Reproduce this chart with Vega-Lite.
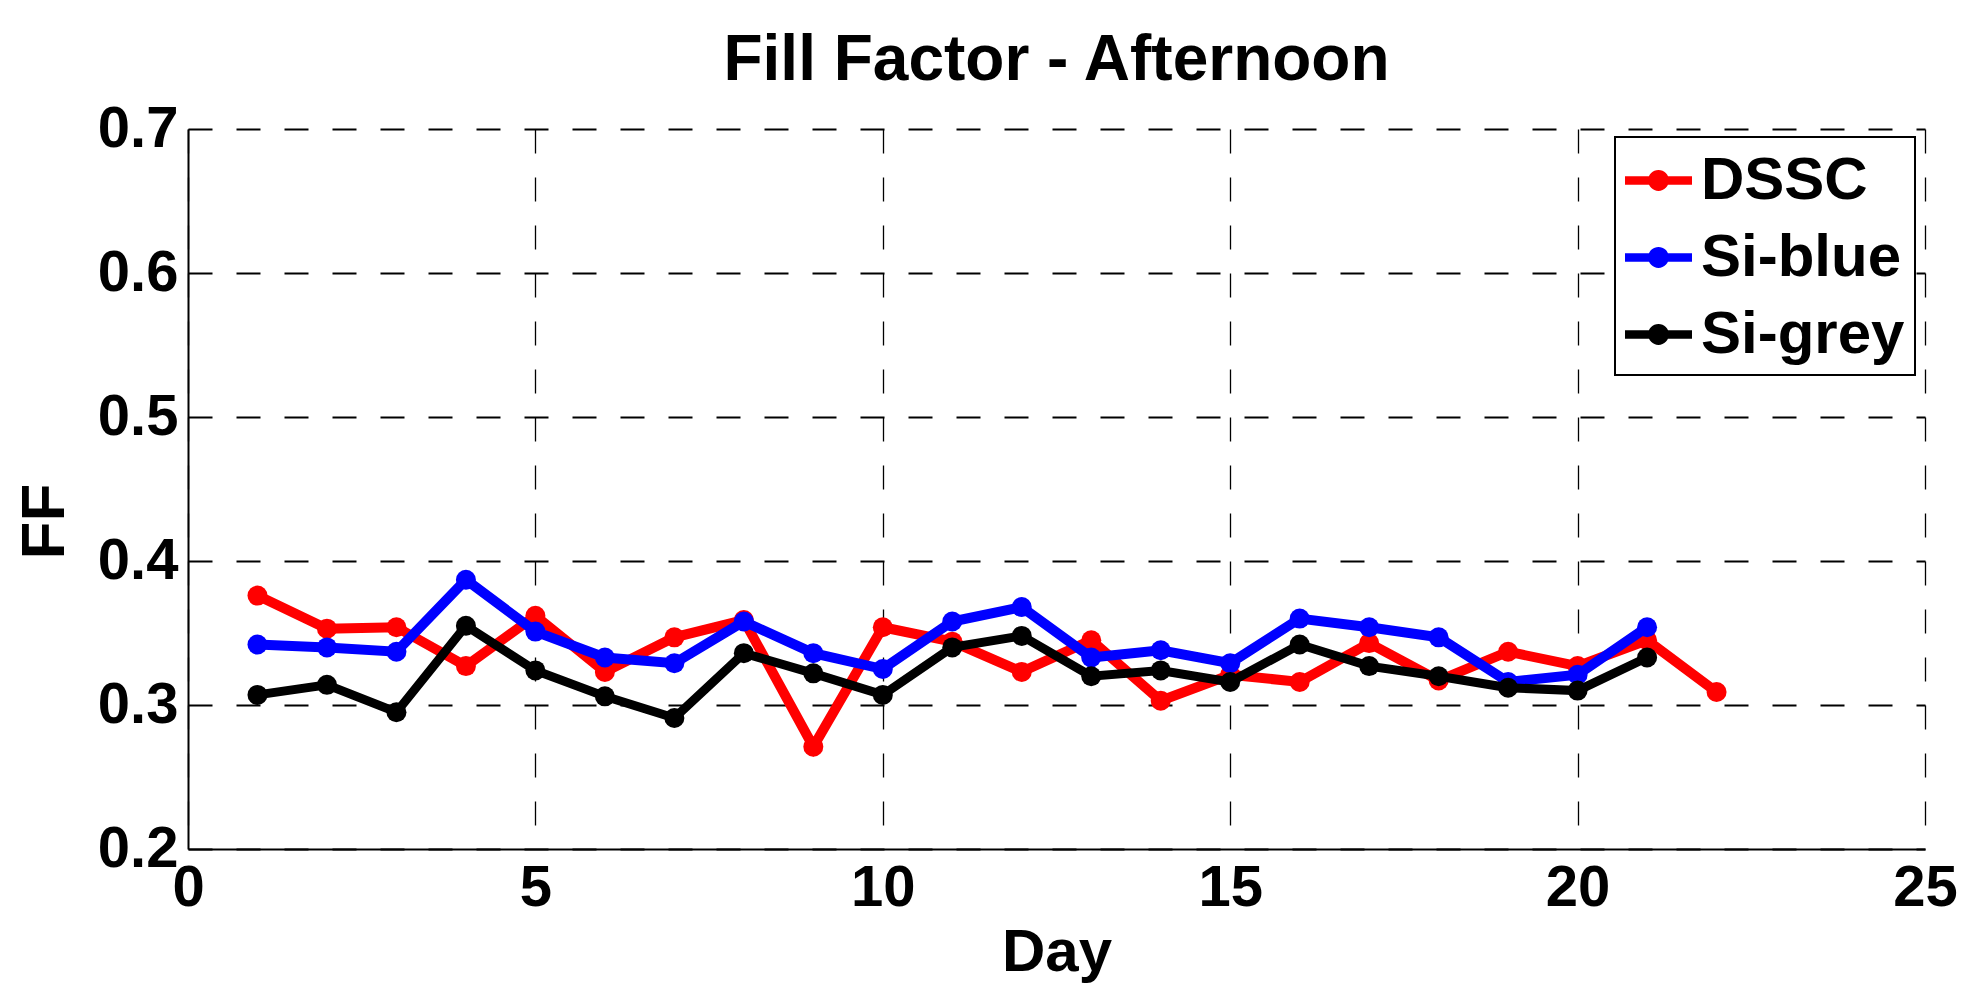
{
  "$schema": "https://vega.github.io/schema/vega-lite/v6.json",
  "autosize": {"type": "none"},
  "width": 1737,
  "height": 720,
  "padding": {"left": 188, "top": 129, "right": 52, "bottom": 151},
  "background": "white",
  "title": {
    "text": "Fill Factor - Afternoon",
    "font": "Liberation Sans",
    "fontSize": 64,
    "fontWeight": "bold",
    "color": "black",
    "anchor": "middle",
    "baseline": "alphabetic",
    "offset": -44
  },
  "data": {
    "values": [
      {"day": 1, "series": "DSSC", "ff": 0.376},
      {"day": 2, "series": "DSSC", "ff": 0.353},
      {"day": 3, "series": "DSSC", "ff": 0.354},
      {"day": 4, "series": "DSSC", "ff": 0.327},
      {"day": 5, "series": "DSSC", "ff": 0.362},
      {"day": 6, "series": "DSSC", "ff": 0.323},
      {"day": 7, "series": "DSSC", "ff": 0.347},
      {"day": 8, "series": "DSSC", "ff": 0.359},
      {"day": 9, "series": "DSSC", "ff": 0.271},
      {"day": 10, "series": "DSSC", "ff": 0.354},
      {"day": 11, "series": "DSSC", "ff": 0.344},
      {"day": 12, "series": "DSSC", "ff": 0.323},
      {"day": 13, "series": "DSSC", "ff": 0.345},
      {"day": 14, "series": "DSSC", "ff": 0.303},
      {"day": 15, "series": "DSSC", "ff": 0.321},
      {"day": 16, "series": "DSSC", "ff": 0.316},
      {"day": 17, "series": "DSSC", "ff": 0.343},
      {"day": 18, "series": "DSSC", "ff": 0.317},
      {"day": 19, "series": "DSSC", "ff": 0.337},
      {"day": 20, "series": "DSSC", "ff": 0.327},
      {"day": 21, "series": "DSSC", "ff": 0.345},
      {"day": 22, "series": "DSSC", "ff": 0.309},
      {"day": 1, "series": "Si-blue", "ff": 0.342},
      {"day": 2, "series": "Si-blue", "ff": 0.340},
      {"day": 3, "series": "Si-blue", "ff": 0.337},
      {"day": 4, "series": "Si-blue", "ff": 0.387},
      {"day": 5, "series": "Si-blue", "ff": 0.351},
      {"day": 6, "series": "Si-blue", "ff": 0.333},
      {"day": 7, "series": "Si-blue", "ff": 0.329},
      {"day": 8, "series": "Si-blue", "ff": 0.358},
      {"day": 9, "series": "Si-blue", "ff": 0.336},
      {"day": 10, "series": "Si-blue", "ff": 0.325},
      {"day": 11, "series": "Si-blue", "ff": 0.358},
      {"day": 12, "series": "Si-blue", "ff": 0.368},
      {"day": 13, "series": "Si-blue", "ff": 0.333},
      {"day": 14, "series": "Si-blue", "ff": 0.338},
      {"day": 15, "series": "Si-blue", "ff": 0.329},
      {"day": 16, "series": "Si-blue", "ff": 0.360},
      {"day": 17, "series": "Si-blue", "ff": 0.354},
      {"day": 18, "series": "Si-blue", "ff": 0.347},
      {"day": 19, "series": "Si-blue", "ff": 0.316},
      {"day": 20, "series": "Si-blue", "ff": 0.321},
      {"day": 21, "series": "Si-blue", "ff": 0.354},
      {"day": 1, "series": "Si-grey", "ff": 0.307},
      {"day": 2, "series": "Si-grey", "ff": 0.314},
      {"day": 3, "series": "Si-grey", "ff": 0.295},
      {"day": 4, "series": "Si-grey", "ff": 0.355},
      {"day": 5, "series": "Si-grey", "ff": 0.324},
      {"day": 6, "series": "Si-grey", "ff": 0.306},
      {"day": 7, "series": "Si-grey", "ff": 0.291},
      {"day": 8, "series": "Si-grey", "ff": 0.336},
      {"day": 9, "series": "Si-grey", "ff": 0.322},
      {"day": 10, "series": "Si-grey", "ff": 0.307},
      {"day": 11, "series": "Si-grey", "ff": 0.340},
      {"day": 12, "series": "Si-grey", "ff": 0.348},
      {"day": 13, "series": "Si-grey", "ff": 0.320},
      {"day": 14, "series": "Si-grey", "ff": 0.324},
      {"day": 15, "series": "Si-grey", "ff": 0.316},
      {"day": 16, "series": "Si-grey", "ff": 0.342},
      {"day": 17, "series": "Si-grey", "ff": 0.327},
      {"day": 18, "series": "Si-grey", "ff": 0.320},
      {"day": 19, "series": "Si-grey", "ff": 0.312},
      {"day": 20, "series": "Si-grey", "ff": 0.310},
      {"day": 21, "series": "Si-grey", "ff": 0.333}
    ]
  },
  "encoding": {
    "x": {
      "field": "day",
      "type": "quantitative",
      "title": "Day",
      "scale": {"domain": [0, 25], "nice": false, "zero": false},
      "axis": {
        "values": [0, 5, 10, 15, 20, 25],
        "format": "d",
        "gridWidth": 1.3,
        "titleY": 121
      }
    },
    "y": {
      "field": "ff",
      "type": "quantitative",
      "title": "FF",
      "scale": {"domain": [0.2, 0.7], "nice": false, "zero": false},
      "axis": {
        "values": [0.2, 0.3, 0.4, 0.5, 0.6, 0.7],
        "format": ".1f",
        "gridWidth": 2,
        "titleFontSize": 62,
        "titleX": -125,
        "titleY": 392
      }
    },
    "color": {
      "field": "series",
      "type": "nominal",
      "title": null,
      "scale": {
        "domain": ["DSSC", "Si-blue", "Si-grey"],
        "range": ["#ff0000", "#0000ff", "#000000"]
      },
      "legend": {
        "orient": "none",
        "legendX": 1427,
        "legendY": 8,
        "symbolType": "M-1,-0.13L1,-0.13L1,0.13L-1,0.13Z M-0.31,0A0.31,0.31,0,1,1,0.31,0A0.31,0.31,0,1,1,-0.31,0Z",
        "symbolSize": 4489,
        "symbolStrokeWidth": 0,
        "symbolOpacity": 1,
        "labelFont": "Liberation Sans",
        "labelFontSize": 60,
        "labelFontWeight": "bold",
        "labelColor": "black",
        "labelLimit": 500,
        "labelOffset": 9,
        "rowPadding": 13,
        "padding": 10,
        "strokeColor": "black",
        "fillColor": "white",
        "encode": {
          "legend": {"update": {"strokeWidth": {"value": 2}}}
        }
      }
    }
  },
  "layer": [
    {
      "transform": [{"filter": "datum.series === 'DSSC'"}],
      "mark": {"type": "line", "strokeWidth": 10, "point": {"filled": true, "size": 400, "opacity": 1}}
    },
    {
      "transform": [{"filter": "datum.series === 'Si-blue'"}],
      "mark": {"type": "line", "strokeWidth": 10, "point": {"filled": true, "size": 400, "opacity": 1}}
    },
    {
      "transform": [{"filter": "datum.series === 'Si-grey'"}],
      "mark": {"type": "line", "strokeWidth": 9, "point": {"filled": true, "size": 400, "opacity": 1}}
    }
  ],
  "config": {
    "view": {"stroke": null},
    "axis": {
      "labelFont": "Liberation Sans",
      "labelFontSize": 58,
      "labelFontWeight": "bold",
      "labelColor": "black",
      "labelPadding": 10,
      "titleFont": "Liberation Sans",
      "titleFontSize": 60,
      "titleFontWeight": "bold",
      "titleColor": "black",
      "titleBaseline": "alphabetic",
      "ticks": false,
      "domainColor": "black",
      "domainWidth": 2,
      "grid": true,
      "gridColor": "black",
      "gridDash": [24, 24],
      "gridOpacity": 1,
      "labelFlush": false,
      "labelOverlap": false
    }
  }
}
